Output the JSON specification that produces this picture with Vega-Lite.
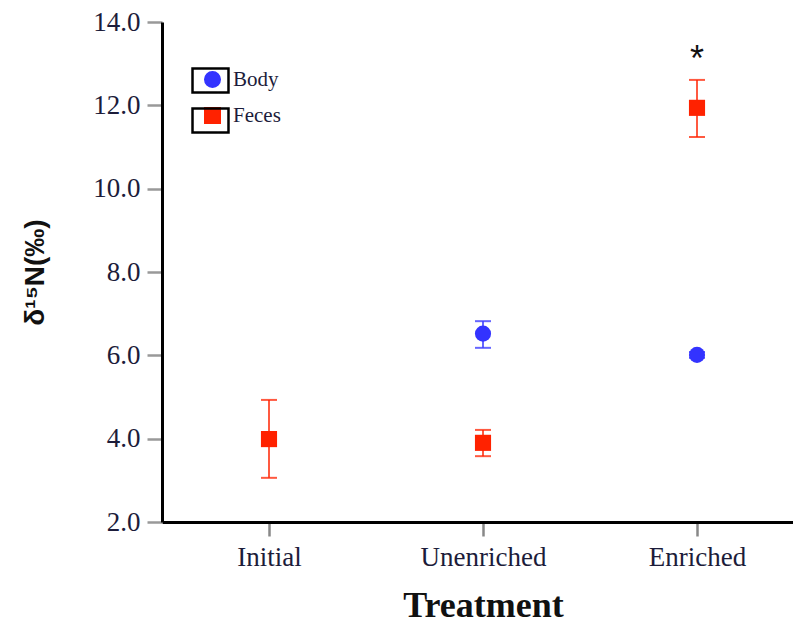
{
  "$schema": "https://vega.github.io/schema/vega-lite/v6.json",
  "autosize": "none",
  "padding": {"left": 162, "top": 22, "right": 0, "bottom": 104},
  "width": 642,
  "height": 500,
  "config": {
    "view": {"stroke": null},
    "axis": {"grid": false}
  },
  "datasets": {
    "main": [
      {"treatment": "Initial", "series": "Feces", "mean": 3.99, "lo": 3.06, "hi": 4.93},
      {"treatment": "Unenriched", "series": "Body", "mean": 6.52, "lo": 6.18, "hi": 6.82},
      {"treatment": "Unenriched", "series": "Feces", "mean": 3.9, "lo": 3.58, "hi": 4.21},
      {"treatment": "Enriched", "series": "Body", "mean": 6.01, "lo": 5.94, "hi": 6.08},
      {"treatment": "Enriched", "series": "Feces", "mean": 11.94, "lo": 11.24, "hi": 12.61}
    ],
    "notes": [
      {"treatment": "Enriched", "label": "*", "pos": 12.83}
    ],
    "frames": [
      {"entry": "Body"},
      {"entry": "Feces"}
    ]
  },
  "layer": [
    {
      "data": {"name": "main"},
      "mark": {"type": "errorbar", "ticks": {"size": 16}, "thickness": 2, "opacity": 0.75},
      "encoding": {
        "x": {
          "field": "treatment", "type": "nominal",
          "sort": ["Initial", "Unenriched", "Enriched"],
          "scale": {"type": "point", "padding": 0.5},
          "axis": {
            "title": "Treatment",
            "titleFont": "Liberation Serif", "titleFontSize": 36, "titleFontWeight": "bold", "titleColor": "#111",
            "titlePadding": 18,
            "labelFont": "Liberation Serif", "labelFontSize": 27, "labelColor": "#1c1c3a", "labelPadding": 8,
            "labelAngle": 0,
            "domainColor": "#000", "domainWidth": 3,
            "tickColor": "#888", "tickWidth": 2.5, "tickSize": 14
          }
        },
        "y": {
          "field": "lo", "type": "quantitative",
          "scale": {"domain": [2, 14], "nice": false, "zero": false},
          "axis": {
            "title": "δ¹⁵N(‰)",
            "titleFont": "Liberation Sans", "titleFontSize": 28, "titleFontWeight": "bold", "titleColor": "#111",
            "titlePadding": 43,
            "values": [2, 4, 6, 8, 10, 12, 14],
            "format": ".1f",
            "labelFont": "Liberation Serif", "labelFontSize": 27, "labelColor": "#1c1c3a", "labelPadding": 7,
            "domainColor": "#000", "domainWidth": 3,
            "tickColor": "#999", "tickWidth": 2.5, "tickSize": 15
          }
        },
        "y2": {"field": "hi"},
        "color": {
          "field": "series", "type": "nominal",
          "scale": {"domain": ["Body", "Feces"], "range": ["#3333FF", "#FF2200"]}
        }
      }
    },
    {
      "data": {"name": "main"},
      "mark": {"type": "point", "filled": true, "opacity": 1, "size": 260},
      "encoding": {
        "x": {"field": "treatment", "type": "nominal", "sort": ["Initial", "Unenriched", "Enriched"]},
        "y": {"field": "mean", "type": "quantitative"},
        "color": {
          "field": "series", "type": "nominal",
          "scale": {"domain": ["Body", "Feces"], "range": ["#3333FF", "#FF2200"]},
          "legend": {
            "title": null, "orient": "none", "legendX": 40, "legendY": 47,
            "padding": 0, "rowPadding": 13, "symbolSize": 240, "symbolOpacity": 1,
            "labelFont": "Liberation Serif", "labelFontSize": 21, "labelColor": "#1c1c3a", "labelOffset": 10,
            "encode": {
              "symbols": {"update": {"opacity": {"value": 1}, "fillOpacity": {"value": 1}}}
            }
          }
        },
        "shape": {
          "field": "series", "type": "nominal",
          "scale": {"domain": ["Body", "Feces"], "range": ["circle", "square"]}
        }
      }
    },
    {
      "data": {"name": "notes"},
      "mark": {"type": "text", "font": "Liberation Sans", "fontSize": 36, "baseline": "alphabetic", "align": "center", "color": "#111"},
      "encoding": {
        "x": {"field": "treatment", "type": "nominal", "sort": ["Initial", "Unenriched", "Enriched"]},
        "y": {"field": "pos", "type": "quantitative"},
        "text": {"field": "label"}
      }
    },
    {
      "data": {"name": "frames"},
      "mark": {"type": "point", "opacity": 0, "color": "#000", "strokeWidth": 2.5, "filled": false},
      "encoding": {
        "strokeDash": {
          "field": "entry", "type": "nominal",
          "scale": {"range": [[1, 0], [1, 0]]},
          "legend": {
            "title": null, "orient": "none", "legendX": 40, "legendY": 50,
            "padding": 0, "rowPadding": 5,
            "symbolType": "M-2.57,-1.7H2.57V1.7H-2.57Z", "symbolSize": 196,
            "symbolStrokeColor": "#000", "symbolStrokeWidth": 2.5, "symbolFillColor": "transparent",
            "labelExpr": "''", "labelFontSize": 1, "labelOffset": 0,
            "encode": {
              "symbols": {
                "update": {
                  "opacity": {"value": 1},
                  "fill": {"value": "transparent"},
                  "stroke": {"value": "#000"},
                  "strokeWidth": {"value": 2.5},
                  "strokeDash": {"value": [1, 0]}
                }
              }
            }
          }
        }
      }
    }
  ]
}
